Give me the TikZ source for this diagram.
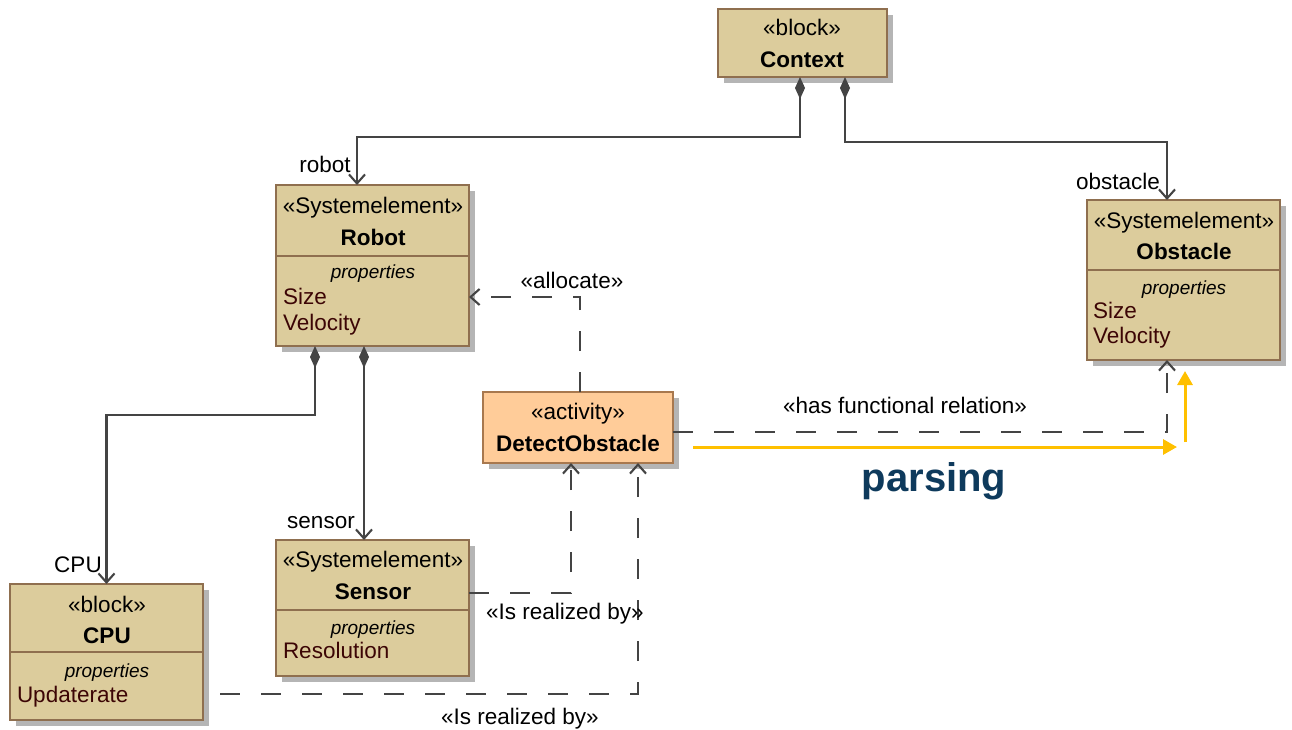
\documentclass[tikz,border=0pt]{standalone}
\usepackage{fontspec}
\setmainfont{Liberation Sans}
\usetikzlibrary{arrows.meta,shadows}
\definecolor{boxfill}{HTML}{DCCC9C}
\definecolor{boxline}{HTML}{8F6F4F}
\definecolor{actfill}{HTML}{FFCC99}
\definecolor{actline}{HTML}{A8784E}
\definecolor{shadowgray}{HTML}{B5B5B5}
\definecolor{wirecol}{HTML}{444444}
\definecolor{attrcol}{HTML}{3C0505}
\definecolor{parsegold}{HTML}{FFC000}
\definecolor{parseblue}{HTML}{0E3A5C}
\tikzset{
  every node/.style={font=\fontsize{22.5}{27}\selectfont, inner sep=0pt, outer sep=0pt},
  umlbox/.style={draw=boxline, fill=boxfill, line width=1.8pt, anchor=north west,
    drop shadow={shadow xshift=6pt, shadow yshift=-6pt, fill=shadowgray, opacity=1}},
  actbox/.style={umlbox, draw=actline, fill=actfill},
  divline/.style={draw=boxline, line width=1.8pt},
  stereo/.style={anchor=base},
  titletext/.style={anchor=base, font=\fontsize{22.5}{27}\selectfont\bfseries},
  propstext/.style={anchor=base, font=\fontsize{19}{23}\selectfont\itshape},
  attrtext/.style={anchor=base west, text=attrcol},
  lbl/.style={anchor=base},
  wire/.style={draw=wirecol, line width=2.1pt},
  compose/.style={wire, {Diamond[length=22pt,width=10pt,fill=wirecol]}-{Straight Barb[length=9pt,width=16pt]}},
  depend/.style={wire, dash pattern=on 20pt off 21pt, -{Straight Barb[length=9pt,width=16pt]}},
  parsearrow/.style={draw=parsegold, line width=3pt, -{Triangle[length=14pt,width=15pt]}},
}
\begin{document}
\begin{tikzpicture}[x=1pt,y=-1pt]
\useasboundingbox (0,0) rectangle (1292,729);
% boxes
\node[umlbox, minimum width=169pt, minimum height=68pt] (context) at (718,9) {};
\node[umlbox, minimum width=193pt, minimum height=161pt] (robot) at (276,185) {};
\node[umlbox, minimum width=193pt, minimum height=160pt] (obstacle) at (1087,200) {};
\node[actbox, minimum width=190pt, minimum height=71pt] (detect) at (483,392) {};
\node[umlbox, minimum width=193pt, minimum height=136pt] (sensor) at (276,540) {};
\node[umlbox, minimum width=193pt, minimum height=136pt] (cpu) at (10,584) {};
% dividers
\draw[divline] ([yshift=-71pt]robot.north west) -- ([yshift=-71pt]robot.north east);
\draw[divline] ([yshift=-70pt]obstacle.north west) -- ([yshift=-70pt]obstacle.north east);
\draw[divline] ([yshift=-70pt]sensor.north west) -- ([yshift=-70pt]sensor.north east);
\draw[divline] ([yshift=-68pt]cpu.north west) -- ([yshift=-68pt]cpu.north east);
% texts
\node[stereo] (contextS) at (802,35) {«block»};
\node[titletext] (contextT) at (802,67) {Context};
\node[stereo] (robotS) at (373,213) {«Systemelement»};
\node[titletext] (robotT) at (373,245) {Robot};
\node[propstext] (robotP) at (373,278) {properties};
\node[attrtext] (robotA1) at (283,304) {Size};
\node[attrtext] (robotA2) at (283,330) {Velocity};
\node[stereo] (obstacleS) at (1184,228) {«Systemelement»};
\node[titletext] (obstacleT) at (1184,259) {Obstacle};
\node[propstext] (obstacleP) at (1184,294) {properties};
\node[attrtext] (obstacleA1) at (1093,318) {Size};
\node[attrtext] (obstacleA2) at (1093,343) {Velocity};
\node[stereo] (detectS) at (578,419) {«activity»};
\node[titletext] (detectT) at (578,451) {DetectObstacle};
\node[stereo] (sensorS) at (373,567) {«Systemelement»};
\node[titletext] (sensorT) at (373,599) {Sensor};
\node[propstext] (sensorP) at (373,634) {properties};
\node[attrtext] (sensorA1) at (283,658) {Resolution};
\node[stereo] (cpuS) at (107,612) {«block»};
\node[titletext] (cpuT) at (107,643) {CPU};
\node[propstext] (cpuP) at (107,677) {properties};
\node[attrtext] (cpuA1) at (17,702) {Updaterate};
% compositions
\draw[compose] ([xshift=-2.5pt]context.south) -- ++(0,60) -| ([xshift=-15.5pt]robot.north);
\draw[compose] ([xshift=42.5pt]context.south) -- ++(0,65) -| ([xshift=-16.5pt]obstacle.north);
\draw[compose] ([xshift=-57.5pt]robot.south) -- ++(0,69) -| (cpu.north);
\draw[compose] ([xshift=-8.5pt]robot.south) -- ([xshift=-8.5pt]sensor.north);
\node[lbl] (robotL) at (325,172) {robot};
\node[lbl] (obstacleL) at (1118,189) {obstacle};
\node[lbl] (cpuL) at (78,572) {CPU};
\node[lbl] (sensorL) at (321,528) {sensor};
% dependencies
\draw[depend] ([xshift=2pt]detect.north) |- ([yshift=-31.5pt]robot.east);
\draw[depend] ([yshift=-4.5pt]detect.east) -| ([xshift=-16.5pt]obstacle.south);
\draw[depend] ([yshift=15pt]sensor.east) -| ([xshift=-7pt]detect.south);
\draw[depend, dash phase=-17pt] ([yshift=-42pt]cpu.east) -| ([xshift=60pt]detect.south);
\node[lbl] (allocL) at (572,288) {«allocate»};
\node[lbl] (funcL) at (905,413) {«has functional relation»};
\node[lbl] (real1L) at (565,619) {«Is realized by»};
\node[lbl] (real2L) at (520,724) {«Is realized by»};
% parsing
\coordinate (p1) at (693,447);
\coordinate (p2) at (1177,447);
\coordinate (p3) at (1185,442);
\coordinate (p4) at (1185,371);
\draw[parsearrow] (p1) -- (p2);
\draw[parsearrow] (p3) -- (p4);
\node[anchor=base, text=parseblue, font=\fontsize{40}{46}\selectfont\bfseries] (parsingL) at (934,491) {parsing};
\end{tikzpicture}
\end{document}
